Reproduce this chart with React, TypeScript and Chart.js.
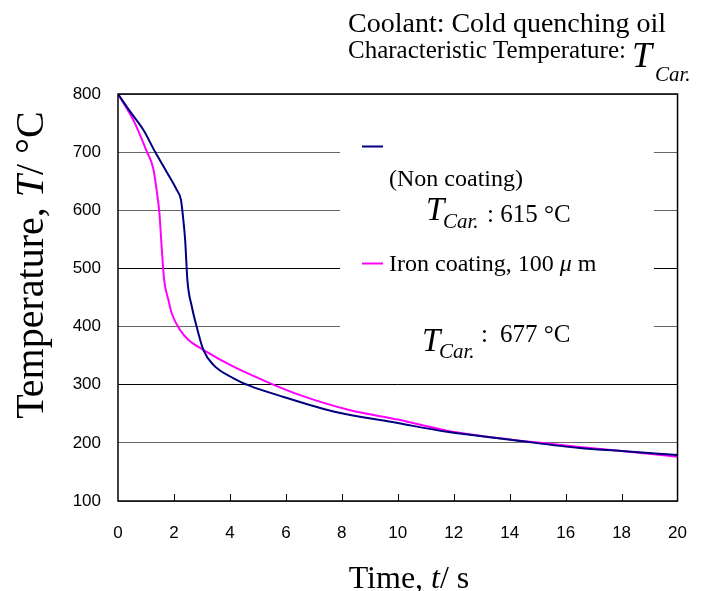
import React, { useEffect, useRef } from "react";
import { Chart, registerables } from "chart.js";

Chart.register(...registerables);

const nonCoatTime = [0, 0.43, 0.91, 1.32, 1.74, 2.1, 2.25, 2.31, 2.4, 2.48, 2.64, 2.81, 3.05, 3.41, 4.13, 4.72, 5.92, 7.7, 10, 11.76, 14.1, 16.5, 18, 20];
const nonCoatTemp = [800, 770, 738, 701, 666, 635, 618, 595, 549, 480, 434, 400, 360, 334, 311, 298, 279, 254, 234, 219, 205, 191, 186, 179];

const ironTime = [0, 0.55, 1.03, 1.26, 1.38, 1.48, 1.56, 1.65, 1.8, 1.92, 2.22, 2.52, 3.05, 4.13, 5.32, 6.51, 8.3, 10, 11.76, 14.14, 15.1, 16.5, 18, 20];
const ironTemp = [800, 755, 701, 672, 635, 595, 537, 480, 446, 423, 394, 377, 360, 331, 305, 282, 256, 240, 221, 205, 200, 193, 186, 176];

const xTicks = [0, 2, 4, 6, 8, 10, 12, 14, 16, 18, 20];
const yTicks = [100, 200, 300, 400, 500, 600, 700, 800];

const SERIF = "'Liberation Serif', 'Times New Roman', serif";
const SANS = "'Liberation Sans', Arial, sans-serif";

type Run = { t: string; font: string; dy?: number; x?: number };

function drawRuns(ctx: CanvasRenderingContext2D, x: number, y: number, runs: Run[]) {
  let cx = x;
  for (const r of runs) {
    ctx.font = r.font;
    if (r.x !== undefined) cx = r.x;
    ctx.fillText(r.t, cx, y + (r.dy || 0));
    cx += ctx.measureText(r.t).width;
  }
}

function runsWidth(ctx: CanvasRenderingContext2D, runs: Run[]) {
  let w = 0;
  for (const p of runs) { ctx.font = p.font; w += ctx.measureText(p.t).width; }
  return w;
}

const decorPlugin = {
  id: "decor",
  beforeDatasetsDraw(chart: any) {
    const ctx = chart.ctx as CanvasRenderingContext2D;
    ctx.save();
    ctx.fillStyle = "#fff";
    ctx.fillRect(340, 138, 314, 197);
    ctx.lineWidth = 2;
    ctx.strokeStyle = "#000080";
    ctx.beginPath();
    ctx.moveTo(362, 146.5);
    ctx.lineTo(383, 146.5);
    ctx.stroke();
    ctx.strokeStyle = "#FF00FF";
    ctx.beginPath();
    ctx.moveTo(362, 263.5);
    ctx.lineTo(383, 263.5);
    ctx.stroke();
    ctx.fillStyle = "#000";
    ctx.textBaseline = "alphabetic";
    ctx.textAlign = "left";
    drawRuns(ctx, 389, 186, [{ t: "(Non coating)", font: `24px ${SERIF}` }]);
    drawRuns(ctx, 426, 220, [
      { t: "T", font: `italic 33px ${SERIF}` },
      { t: "Car.", font: `italic 21px ${SERIF}`, dy: 8, x: 443 },
      { t: ": 615 \u00b0C", font: `25px ${SERIF}`, dy: 2, x: 487 },
    ]);
    drawRuns(ctx, 389, 271, [
      { t: "Iron coating, 100 ", font: `24px ${SERIF}` },
      { t: "\u03bc", font: `italic 24px ${SERIF}` },
      { t: " m", font: `24px ${SERIF}` },
    ]);
    drawRuns(ctx, 422, 351, [
      { t: "T", font: `italic 33px ${SERIF}` },
      { t: "Car.", font: `italic 21px ${SERIF}`, dy: 7, x: 439 },
      { t: ":", font: `25px ${SERIF}`, dy: -9, x: 481 },
      { t: "677 \u00b0C", font: `25px ${SERIF}`, dy: -9, x: 500 },
    ]);
    ctx.restore();
  },
  afterDatasetsDraw(chart: any) {
    const ctx = chart.ctx as CanvasRenderingContext2D;
    const a = chart.chartArea;
    const xs = chart.scales.x;
    ctx.save();
    ctx.strokeStyle = "#000";
    ctx.lineWidth = 1.5;
    ctx.strokeRect(a.left, a.top, a.right - a.left, a.bottom - a.top);
    ctx.lineWidth = 1;
    for (const v of xTicks.slice(1, -1)) {
      const px = Math.round(xs.getPixelForValue(v)) + 0.5;
      ctx.beginPath();
      ctx.moveTo(px, a.bottom);
      ctx.lineTo(px, a.bottom - 7);
      ctx.stroke();
    }
    ctx.restore();
  },
  afterDraw(chart: any) {
    const ctx = chart.ctx as CanvasRenderingContext2D;
    ctx.save();
    ctx.fillStyle = "#000";
    ctx.textBaseline = "alphabetic";
    ctx.textAlign = "left";
    drawRuns(ctx, 348, 32, [{ t: "Coolant: Cold quenching oil", font: `28px ${SERIF}` }]);
    drawRuns(ctx, 348, 58, [{ t: "Characteristic Temperature:", font: `25px ${SERIF}` }]);
    drawRuns(ctx, 632, 67, [
      { t: "T", font: `italic 36px ${SERIF}` },
      { t: "Car.", font: `italic 21px ${SERIF}`, dy: 14, x: 655 },
    ]);
    const parts: Run[] = [
      { t: "Time, ", font: `32px ${SERIF}` },
      { t: "t", font: `italic 32px ${SERIF}` },
      { t: "/ s", font: `32px ${SERIF}` },
    ];
    const w = runsWidth(ctx, parts);
    drawRuns(ctx, 409 - w / 2, 588, parts);
    const yparts: Run[] = [
      { t: "Temperature, ", font: `40px ${SERIF}` },
      { t: "T", font: `italic 40px ${SERIF}` },
      { t: "/ \u00b0C", font: `40px ${SERIF}` },
    ];
    const wy = runsWidth(ctx, yparts);
    ctx.translate(43, 265);
    ctx.rotate(-Math.PI / 2);
    drawRuns(ctx, -wy / 2, 0, yparts);
    ctx.restore();
  },
};

export default function App() {
  const ref = useRef<HTMLCanvasElement | null>(null);
  useEffect(() => {
    document.body.style.margin = "0";
    const canvas = ref.current!;
    const chart = new Chart(canvas, {
      type: "line",
      data: {
        datasets: [
          {
            label: "Non coating",
            data: nonCoatTime.map((t, i) => ({ x: t, y: nonCoatTemp[i] })),
            borderColor: "#000080",
            borderWidth: 2,
            pointRadius: 0,
            cubicInterpolationMode: "monotone",
          },
          {
            label: "Iron coating, 100 μm",
            data: ironTime.map((t, i) => ({ x: t, y: ironTemp[i] })),
            borderColor: "#FF00FF",
            borderWidth: 2,
            pointRadius: 0,
            cubicInterpolationMode: "monotone",
          },
        ],
      },
      options: {
        animation: false,
        responsive: false,
        devicePixelRatio: 1,
        layout: { padding: { top: 94, right: 18, left: 0, bottom: 0 } },
        plugins: { legend: { display: false }, tooltip: { enabled: false }, title: { display: false } },
        scales: {
          x: {
            type: "linear",
            min: 0,
            max: 20,
            afterBuildTicks: (s: any) => { s.ticks = xTicks.map((v) => ({ value: v })); },
            afterFit: (s: any) => { s.height = 90; },
            ticks: { color: "#000", font: { family: SANS, size: 17 }, padding: 14, maxRotation: 0, autoSkip: false },
            grid: { display: false },
            border: { display: false },
          },
          y: {
            type: "linear",
            min: 100,
            max: 800,
            afterBuildTicks: (s: any) => { s.ticks = yTicks.map((v) => ({ value: v })); },
            afterFit: (s: any) => { s.width = 118; },
            ticks: { color: "#000", font: { family: SANS, size: 17 }, padding: 17 },
            grid: {
              drawTicks: false,
              color: (c: any) => (c.tick && (c.tick.value === 300 || c.tick.value === 500) ? "#000" : "#666"),
              lineWidth: 1,
            },
            border: { display: false },
          },
        },
      },
      plugins: [decorPlugin],
    });
    return () => chart.destroy();
  }, []);
  return (
    <div style={{ width: 701, height: 591, position: "relative" }}>
      <canvas ref={ref} width={701} height={591} style={{ display: "block" }} />
    </div>
  );
}
